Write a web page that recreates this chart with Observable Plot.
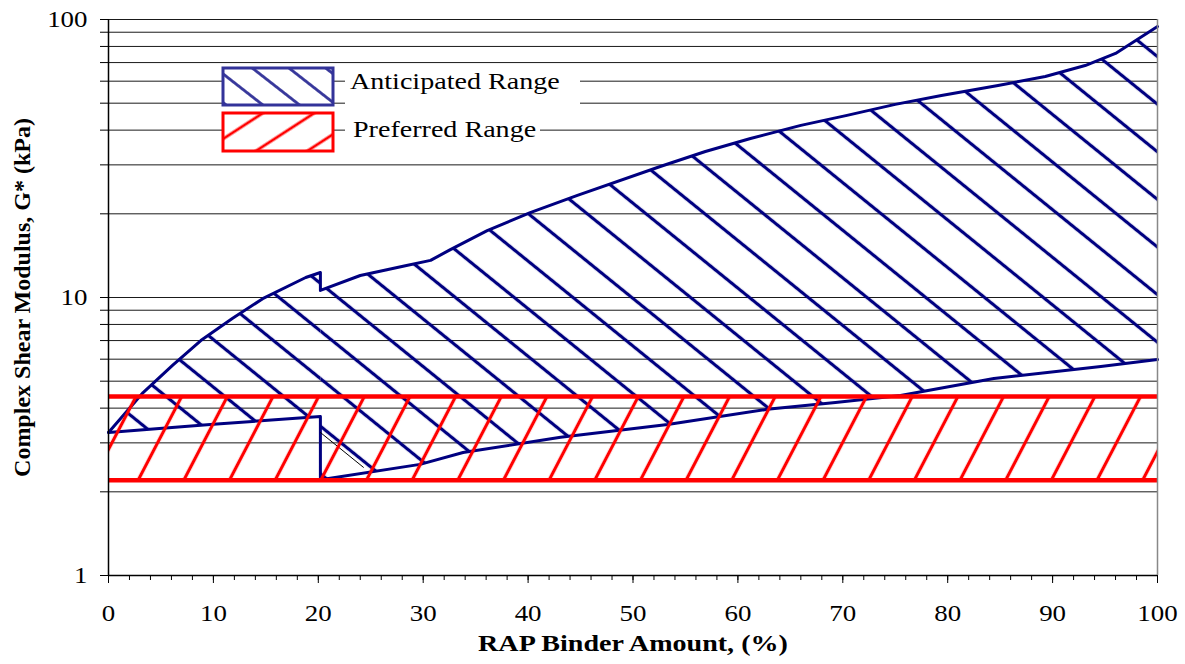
<!DOCTYPE html>
<html><head><meta charset="utf-8">
<script src="https://cdn.jsdelivr.net/npm/d3@7"></script>
<script src="https://cdn.jsdelivr.net/npm/@observablehq/plot@0.6"></script>
<style>body{margin:0;background:#fff}svg{display:block}</style>
</head><body><div id="chart"></div>
<script>
// ---- data ----
const upperLeftX  = [0, 3.3, 6.1, 8.8, 11.8, 14.7, 18.8, 20.2];
const upperLeftY  = [3.27, 4.55, 5.7, 7.0, 8.4, 9.9, 11.8, 12.3];
const upperRightX = [20.2, 24, 28.3, 30.7, 32.5, 36.1, 40.2, 44.7, 52.6, 56.9, 61.2, 66, 70.4, 75, 79.4, 84.8, 89.3, 93.1, 96, 100];
const upperRightY = [10.6, 12.0, 13.0, 13.6, 14.8, 17.4, 20.2, 23.3, 29.6, 33.5, 37.3, 41.6, 45.2, 49.5, 53.3, 57.9, 62.4, 68.3, 75.5, 94.3];
const lowerLeftX  = [0, 10, 20.2];
const lowerLeftY  = [3.27, 3.5, 3.73];
const lowerRightX = [20.2, 29.7, 33.8, 43.1, 53.3, 62.8, 69.3, 75.5, 84.4, 94.6, 100];
const lowerRightY = [2.21, 2.51, 2.77, 3.14, 3.49, 3.96, 4.19, 4.44, 5.11, 5.65, 5.98];
const connectorX  = [20.2, 24.3];
const connectorY  = [3.27, 2.45];
const preferredLow = 2.2, preferredHigh = 4.4;
const xDomain = [0, 100];
const yDomain = [1, 100];
const xMajorTicks = [0, 10, 20, 30, 40, 50, 60, 70, 80, 90, 100];
const xMinorTicks = d3.range(0, 101, 2);
const yTicks = [1,2,3,4,5,6,7,8,9,10,20,30,40,50,60,70,80,90,100];
const yLabeled = [1, 10, 100];
const legendLabels = ["Anticipated Range", "Preferred Range"];
const xLabel = "RAP Binder Amount, (%)";
const yLabel = "Complex Shear Modulus, G* (kPa)";

// ---- build tables ----
const pts = (xs, ys, key, val) => xs.map((x, i) => ({[key]: val, x, y: ys[i]}));
const polygons = [
  ...pts(upperLeftX, upperLeftY, "part", "left"),
  ...pts(lowerLeftX, lowerLeftY, "part", "left").reverse(),
  ...pts(upperRightX, upperRightY, "part", "right"),
  ...pts(lowerRightX, lowerRightY, "part", "right").reverse()
];
const outline = [
  ...pts(upperLeftX, upperLeftY, "edge", "upper"),
  ...pts(upperRightX, upperRightY, "edge", "upper"),
  ...pts(lowerLeftX, lowerLeftY, "edge", "lower"),
  ...pts(lowerRightX, lowerRightY, "edge", "lower")
];
const connector = pts(connectorX, connectorY, "edge", "c");
const band = [{x1: xDomain[0], x2: xDomain[1], y1: preferredLow, y2: preferredHigh}];

const FONT = "'Liberation Serif','Times New Roman',serif";
const NAVY = "#000080", RED = "#ff0000";
const SX = 1.17;

const svg = Plot.plot({
  width: 1185, height: 664,
  marginLeft: 108, marginRight: 28, marginTop: 19, marginBottom: 89,
  style: {fontFamily: FONT, fontSize: "23px", color: "#000", background: "#fff", overflow: "visible"},
  x: {domain: xDomain},
  y: {type: "log", domain: yDomain},
  marks: [
    Plot.gridY(yTicks, {stroke: "#1a1a1a", strokeOpacity: 1, strokeWidth: 1}),
    Plot.line(polygons, {x: "x", y: "y", z: "part", fill: "url(#blueHatch)", stroke: "none"}),
    Plot.line(outline, {x: "x", y: "y", z: "edge", stroke: NAVY, strokeWidth: 3}),
    Plot.line(connector, {x: "x", y: "y", stroke: "#000", strokeWidth: 1}),
    Plot.rect(band, {x1: "x1", x2: "x2", y1: "y1", y2: "y2", fill: "url(#redHatch)"}),
    Plot.ruleY([preferredLow, preferredHigh], {stroke: RED, strokeWidth: 4.5}),
    Plot.ruleX([xDomain[1]], {stroke: "#888", strokeWidth: 1.5}),
    Plot.ruleX([xDomain[0]], {stroke: "#000", strokeWidth: 1.5}),
    Plot.ruleY([yDomain[0]], {stroke: "#000", strokeWidth: 1.5}),
    Plot.axisY(yTicks, {tickSize: 8, tickPadding: 13, tickFormat: d => yLabeled.includes(d) ? String(d) : "", label: null, fontSize: 23}),
    Plot.axisX(xMinorTicks, {tickSize: 5, tickFormat: () => "", label: null}),
    Plot.axisX(xMajorTicks, {tickSize: 8, tickPadding: 21, label: null, fontSize: 23}),
    Plot.text([xLabel], {text: d => d, frameAnchor: "bottom", dy: 75, fontSize: 24, fontWeight: "bold"}),
    Plot.text([yLabel], {text: d => d, frameAnchor: "left", textAnchor: "middle", dx: -86, rotate: -90, fontSize: 24, fontWeight: "bold"})
  ]
});

// ---- hatch patterns ----
const root = d3.select(svg);
const defs = root.insert("defs", ":first-child");
function hatch(id, color, angle, spacing, w) {
  const p = defs.append("pattern").attr("id", id).attr("patternUnits", "userSpaceOnUse")
    .attr("width", 400).attr("height", spacing).attr("patternTransform", `rotate(${angle})`);
  p.append("rect").attr("x", 0).attr("y", (spacing - w) / 2).attr("width", 400).attr("height", w).attr("fill", color);
}
hatch("blueHatch", NAVY, 39, 37, 3.2);
hatch("redHatch", RED, -62.5, 40.5, 3.2);
hatch("blueHatchLeg", "#333399", 38, 22.6, 2.8);
hatch("redHatchLeg", RED, -33, 28, 2.8);

// drop empty tick labels
root.selectAll("text").filter(function () { return this.textContent === ""; }).remove();

// horizontal stretch of horizontal text, as in the reference
root.selectAll("text").each(function () {
  const t = this.getAttribute("transform") || "";
  if (!t.includes("rotate")) this.setAttribute("transform", t + ` scale(${SX},1)`);
});

// ---- legend ----
const leg = root.append("g").attr("font-family", FONT).attr("font-size", 24).attr("text-anchor", "start");
leg.append("rect").attr("x", 345).attr("y", 66).attr("width", 235).attr("height", 42).attr("fill", "#fff");
leg.append("rect").attr("x", 345).attr("y", 108).attr("width", 195).attr("height", 44).attr("fill", "#fff");
leg.append("rect").attr("x", 223).attr("y", 68).attr("width", 110).attr("height", 37)
  .attr("fill", "#fff").attr("stroke", "none");
leg.append("rect").attr("x", 223).attr("y", 68).attr("width", 110).attr("height", 37)
  .attr("fill", "url(#blueHatchLeg)").attr("stroke", "#333399").attr("stroke-width", 3);
leg.append("rect").attr("x", 223).attr("y", 113).attr("width", 110).attr("height", 38)
  .attr("fill", "#fff").attr("stroke", "none");
leg.append("rect").attr("x", 223).attr("y", 113).attr("width", 110).attr("height", 38)
  .attr("fill", "url(#redHatchLeg)").attr("stroke", RED).attr("stroke-width", 3);
leg.append("text").attr("transform", `translate(350,89) scale(${SX},1)`).text(legendLabels[0]);
leg.append("text").attr("transform", `translate(353,137) scale(${SX},1)`).text(legendLabels[1]);

document.getElementById("chart").appendChild(svg);
</script>
</body></html>
